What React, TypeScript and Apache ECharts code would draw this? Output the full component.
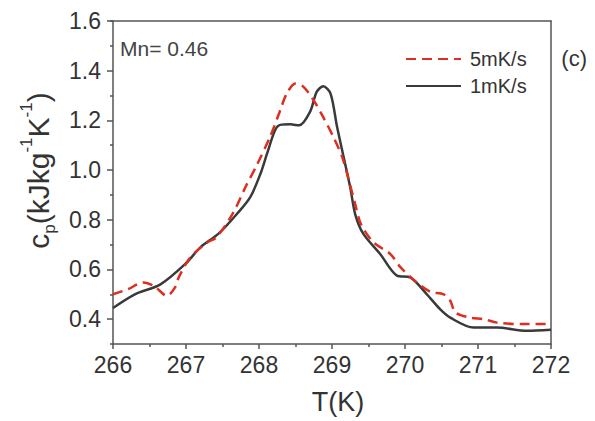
import React, { useEffect, useRef } from "react";
import * as echarts from "echarts";

// 1 mK/s (solid dark)
const T_1mK = [266.0, 266.3, 266.65, 267.0, 267.2, 267.45, 267.7, 267.88, 268.02, 268.11, 268.22, 268.29, 268.43, 268.55, 268.7, 268.79, 268.88, 268.98, 269.07, 269.16, 269.25, 269.32, 269.43, 269.66, 269.89, 270.07, 270.3, 270.48, 270.62, 270.94, 271.26, 271.67, 272.0];
const CP_1mK = [0.445, 0.5, 0.54, 0.625, 0.69, 0.745, 0.824, 0.891, 0.985, 1.066, 1.16, 1.182, 1.184, 1.18, 1.235, 1.315, 1.337, 1.308, 1.173, 1.052, 0.93, 0.82, 0.743, 0.662, 0.575, 0.568, 0.5, 0.44, 0.406, 0.366, 0.366, 0.353, 0.357];

// 5 mK/s (dashed red)
const T_5mK = [266.0, 266.2, 266.42, 266.56, 266.74, 266.85, 266.9, 267.06, 267.3, 267.42, 267.65, 267.82, 267.97, 268.15, 268.29, 268.38, 268.5, 268.61, 268.75, 268.88, 269.02, 269.14, 269.23, 269.32, 269.4, 269.57, 269.8, 269.94, 270.16, 270.35, 270.53, 270.62, 270.69, 270.89, 271.08, 271.26, 271.62, 272.0];
const CP_5mK = [0.5, 0.52, 0.548, 0.534, 0.494, 0.528, 0.568, 0.649, 0.71, 0.73, 0.83, 0.935, 1.02, 1.133, 1.24, 1.308, 1.348, 1.335, 1.28, 1.213, 1.133, 1.052, 0.96, 0.86, 0.78, 0.709, 0.662, 0.608, 0.548, 0.51, 0.5, 0.474, 0.427, 0.406, 0.4, 0.386, 0.38, 0.38];

const Y_MAJOR = [0.4, 0.6, 0.8, 1.0, 1.2, 1.4, 1.6];
const SERIES_NAMES = ["5mK/s", "1mK/s"];

const FONT = "'Liberation Sans', Arial, sans-serif";
const AXIS_COLOR = "#555";

export default function App() {
  const ref = useRef<HTMLDivElement>(null);
  useEffect(() => {
    document.body.style.margin = "0";
    const chart = echarts.init(ref.current!, null, { renderer: "svg" });
    const zip = (xs: number[], ys: number[]) => xs.map((x, i) => [x, ys[i]]);
    const lineStyleAxis = { color: AXIS_COLOR, width: 1.5 };
    chart.setOption({
      animation: false,
      backgroundColor: "#fff",
      textStyle: { fontFamily: FONT },
      grid: { left: 113, right: 44, top: 21, bottom: 77 },
      title: [
        { text: "(c)", right: 3, top: 42, textStyle: { fontSize: 22, fontWeight: "normal", color: "#333", fontFamily: FONT } },
        { text: "Mn= 0.46", left: 115, top: 33, textStyle: { fontSize: 21, fontWeight: "normal", color: "#444", fontFamily: FONT } },
      ],
      legend: {
        data: SERIES_NAMES,
        orient: "vertical",
        left: 400,
        top: 44,
        itemWidth: 55,
        itemHeight: 14,
        itemGap: 7,
        itemStyle: { opacity: 0 },
        textStyle: { fontSize: 20, color: "#333", lineHeight: 20, padding: [0, 0, 0, 4], fontFamily: FONT },
      },
      xAxis: [
        {
          type: "value", min: 266, max: 272, interval: 1, position: "bottom",
          axisLine: { show: true, lineStyle: lineStyleAxis },
          axisTick: { show: true, inside: false, length: 5, lineStyle: lineStyleAxis },
          minorTick: { show: true, splitNumber: 2, length: 3, lineStyle: lineStyleAxis },
          splitLine: { show: false }, minorSplitLine: { show: false },
          axisLabel: { fontSize: 23, color: "#333", margin: 9, fontFamily: FONT },
          name: "T(K)", nameLocation: "middle", nameGap: 44,
          nameTextStyle: { fontSize: 27, color: "#333", fontFamily: FONT, padding: [0, 0, 0, 12] },
        },
        {
          type: "value", min: 266, max: 272, position: "top",
          axisLine: { show: true, lineStyle: lineStyleAxis },
          axisTick: { show: false }, axisLabel: { show: false }, splitLine: { show: false },
        },
      ],
      yAxis: [
        {
          type: "value", min: 0.3, max: 1.6, position: "left",
          axisLine: { show: true, lineStyle: lineStyleAxis },
          axisTick: { show: true, customValues: Y_MAJOR, length: 6, lineStyle: lineStyleAxis },
          axisLabel: { customValues: Y_MAJOR, formatter: (v: number) => v.toFixed(1), fontSize: 23, color: "#333", margin: 12, fontFamily: FONT },
          splitLine: { show: false },
          name: "{c|c}{sub|p}{n|(kJkg}{sup|-1}{n|K}{sup|-1}{n|)}",
          nameLocation: "middle", nameGap: 52, nameRotate: 90,
          nameTextStyle: {
            padding: [0, 0, 0, 24],
            rich: {
              c: { fontSize: 30, color: "#333", fontFamily: FONT, lineHeight: 40, verticalAlign: "middle" },
              n: { fontSize: 30, color: "#333", fontFamily: FONT, lineHeight: 40, verticalAlign: "middle" },
              sub: { fontSize: 17, color: "#333", fontFamily: FONT, lineHeight: 17, verticalAlign: "bottom" },
              sup: { fontSize: 17, color: "#333", fontFamily: FONT, lineHeight: 17, verticalAlign: "top" },
            },
          },
        },
        {
          type: "value", min: 0.3, max: 1.6, interval: 0.2, position: "left",
          axisLine: { show: false },
          axisTick: { show: true, length: 3, lineStyle: lineStyleAxis },
          axisLabel: { show: false }, splitLine: { show: false },
        },
        {
          type: "value", min: 0.3, max: 1.6, position: "right",
          axisLine: { show: true, lineStyle: lineStyleAxis },
          axisTick: { show: false }, axisLabel: { show: false }, splitLine: { show: false },
        },
      ],
      series: [
        {
          name: SERIES_NAMES[1], type: "line", xAxisIndex: 0, yAxisIndex: 0,
          data: zip(T_1mK, CP_1mK), symbol: "none", smooth: 0.3,
          lineStyle: { color: "#3a3a3a", width: 2.5 }, itemStyle: { color: "#3a3a3a" },
        },
        {
          name: SERIES_NAMES[0], type: "line", xAxisIndex: 0, yAxisIndex: 0,
          data: zip(T_5mK, CP_5mK), symbol: "none", smooth: 0.3,
          lineStyle: { color: "#dd2e22", width: 2.5, type: [10, 6] }, itemStyle: { color: "#dd2e22" },
        },
      ],
    });
    return () => chart.dispose();
  }, []);
  return <div ref={ref} style={{ width: 595, height: 421 }} />;
}
